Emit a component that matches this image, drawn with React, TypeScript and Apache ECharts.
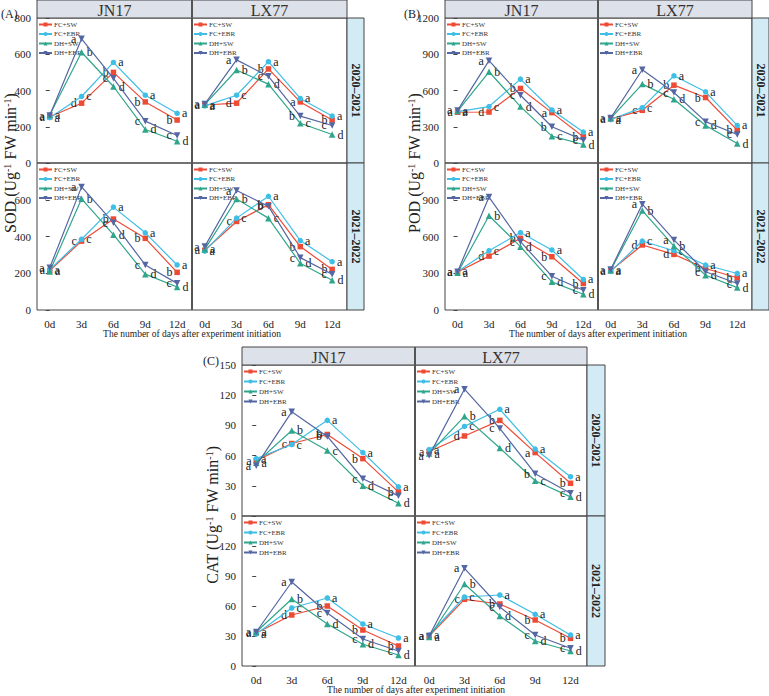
import React, { useEffect, useRef } from "react";
import * as echarts from "echarts";

const FONT = '"Liberation Serif","Times New Roman",serif';
const days = [0, 3, 6, 9, 12];
const dayLabels = ["0d", "3d", "6d", "9d", "12d"];
const treatments = ["FC+SW", "FC+EBR", "DH+SW", "DH+EBR"];
const cultivars = ["JN17", "LX77"];
const seasons = ["2020\u20132021", "2021\u20132022"];
const xTitle = "The number of days after experiment initiation";

// ---------- SOD (A) ----------
const sodJN17y1FCSW = [255, 330, 500, 337, 237];
const sodJN17y1FCEBR = [250, 367, 555, 374, 274];
const sodJN17y1DHSW = [265, 611, 422, 185, 120];
const sodJN17y1DHEBR = [262, 685, 467, 231, 152];
const sodJN17y1Letters = ["aaaa", "dcba", "badc", "badc", "badc"];

const sodLX77y1FCSW = [320, 330, 519, 337, 237];
const sodLX77y1FCEBR = [315, 374, 559, 356, 259];
const sodLX77y1DHSW = [322, 513, 435, 219, 157];
const sodLX77y1DHEBR = [325, 569, 478, 259, 207];
const sodLX77y1Letters = ["aaaa", "dcba", "badc", "aacb", "badc"];

const sodJN17y2FCSW = [215, 375, 495, 390, 205];
const sodJN17y2FCEBR = [220, 385, 560, 420, 245];
const sodJN17y2DHSW = [210, 605, 410, 195, 125];
const sodJN17y2DHEBR = [230, 670, 475, 245, 145];
const sodJN17y2Letters = ["aaaa", "ccba", "badc", "badc", "badc"];

const sodLX77y2FCSW = [325, 482, 573, 345, 221];
const sodLX77y2FCEBR = [320, 500, 619, 378, 263];
const sodLX77y2DHSW = [330, 604, 500, 254, 162];
const sodLX77y2DHEBR = [345, 650, 564, 285, 195];
const sodLX77y2Letters = ["aaaa", "ccba", "bacb", "badc", "badc"];

// ---------- POD (B) ----------
const podJN17y1FCSW = [420, 422, 617, 417, 217];
const podJN17y1FCEBR = [425, 467, 694, 439, 256];
const podJN17y1DHSW = [430, 755, 467, 222, 153];
const podJN17y1DHEBR = [435, 847, 561, 300, 189];
const podJN17y1Letters = ["aaaa", "dcba", "badc", "aacb", "badc"];

const podLX77y1FCSW = [365, 436, 644, 542, 272];
const podLX77y1FCEBR = [360, 458, 722, 589, 311];
const podLX77y1DHSW = [370, 653, 528, 311, 161];
const podLX77y1DHEBR = [372, 772, 583, 342, 236];
const podLX77y1Letters = ["aaaa", "ccba", "badc", "badc", "badc"];

const podJN17y2FCSW = [310, 440, 585, 435, 216];
const podJN17y2FCEBR = [315, 484, 632, 490, 249];
const podJN17y2DHSW = [305, 769, 517, 230, 129];
const podJN17y2DHEBR = [312, 922, 558, 276, 161];
const podJN17y2Letters = ["aaaa", "dcba", "badc", "badc", "badc"];

const podLX77y2FCSW = [320, 531, 454, 339, 263];
const podLX77y2FCEBR = [315, 563, 484, 367, 298];
const podLX77y2DHSW = [325, 812, 522, 284, 183];
const podLX77y2DHEBR = [330, 864, 572, 312, 216];
const podLX77y2Letters = ["aaaa", "dcba", "dcba", "badc", "badc"];

// ---------- CAT (C) ----------
const catJN17y1FCSW = [55, 72, 81, 57, 24];
const catJN17y1FCEBR = [57, 71, 95, 63, 29];
const catJN17y1DHSW = [53, 85, 65, 30, 12.6];
const catJN17y1DHEBR = [50, 103.5, 79, 37, 20];
const catJN17y1Letters = ["aaaa", "ccba", "bacb", "badc", "badc"];

const catLX77y1FCSW = [64, 79.5, 95, 63, 32.5];
const catLX77y1FCEBR = [66, 89, 106, 66.5, 39];
const catLX77y1DHSW = [62, 99, 67.5, 35, 19];
const catLX77y1DHEBR = [60, 126, 87, 42, 22.5];
const catLX77y1Letters = ["aaaa", "dcba", "badc", "aacb", "badc"];

const catJN17y2FCSW = [33, 51, 60, 36, 20];
const catJN17y2FCEBR = [32, 58, 68, 42, 28];
const catJN17y2DHSW = [34, 67, 42, 21.7, 11];
const catJN17y2DHEBR = [34, 84, 53, 27, 15];
const catJN17y2Letters = ["aaaa", "dcba", "badc", "badc", "badc"];

const catLX77y2FCSW = [30, 66.7, 62, 46, 27.7];
const catLX77y2FCEBR = [31, 69, 71, 51.7, 31];
const catLX77y2DHSW = [29, 82, 50, 25, 15];
const catLX77y2DHEBR = [30, 97.7, 59, 31, 17.7];
const catLX77y2Letters = ["aaaa", "ccba", "badc", "badc", "badc"];

// ---------- styling ----------
const COLORS = ["#ee4b37", "#3fbee6", "#2fa68c", "#5567a2"];
const SYMBOLS = ["rect", "circle", "triangle", "triangle"];
const SYMBOL_SIZE = [5.5, 5.5, 6.5, 6.5];
const SYMBOL_ROT = [0, 0, 0, 180];
const LABEL_POS = ["left", "right", "right", "left"];
const LABEL_OFF = [[0, 3], [0, 0], [0, 3], [0, -2]];

type Cell = { s: number[][]; l: string[] };

const panels = [
  {
    tag: "(A)", tagX: 1, tagY: 14,
    name: "SOD", titleX: 10, titleY: 163,
    left: 37, widths: [155, 155], top: 18, heights: [145, 147], strip: 17,
    max: 800, step: 200, xTitleX: 192, xTitleY: 334, legendGap: 2.5,
    cells: [
      [
        { s: [sodJN17y1FCSW, sodJN17y1FCEBR, sodJN17y1DHSW, sodJN17y1DHEBR], l: sodJN17y1Letters },
        { s: [sodLX77y1FCSW, sodLX77y1FCEBR, sodLX77y1DHSW, sodLX77y1DHEBR], l: sodLX77y1Letters },
      ],
      [
        { s: [sodJN17y2FCSW, sodJN17y2FCEBR, sodJN17y2DHSW, sodJN17y2DHEBR], l: sodJN17y2Letters },
        { s: [sodLX77y2FCSW, sodLX77y2FCEBR, sodLX77y2DHSW, sodLX77y2DHEBR], l: sodLX77y2Letters },
      ],
    ] as Cell[][],
  },
  {
    tag: "(B)", tagX: 404, tagY: 14,
    name: "POD", titleX: 414, titleY: 163,
    left: 445, widths: [153, 154], top: 18, heights: [145, 147], strip: 17,
    max: 1200, step: 300, xTitleX: 598, xTitleY: 334, legendGap: 2.5,
    cells: [
      [
        { s: [podJN17y1FCSW, podJN17y1FCEBR, podJN17y1DHSW, podJN17y1DHEBR], l: podJN17y1Letters },
        { s: [podLX77y1FCSW, podLX77y1FCEBR, podLX77y1DHSW, podLX77y1DHEBR], l: podLX77y1Letters },
      ],
      [
        { s: [podJN17y2FCSW, podJN17y2FCEBR, podJN17y2DHSW, podJN17y2DHEBR], l: podJN17y2Letters },
        { s: [podLX77y2FCSW, podLX77y2FCEBR, podLX77y2DHSW, podLX77y2DHEBR], l: podLX77y2Letters },
      ],
    ] as Cell[][],
  },
  {
    tag: "(C)", tagX: 203, tagY: 361,
    name: "CAT", titleX: 212, titleY: 515,
    left: 242, widths: [173, 172], top: 365, heights: [151, 150], strip: 18,
    max: 150, step: 30, xTitleX: 416, xTitleY: 690, legendGap: 3,
    cells: [
      [
        { s: [catJN17y1FCSW, catJN17y1FCEBR, catJN17y1DHSW, catJN17y1DHEBR], l: catJN17y1Letters },
        { s: [catLX77y1FCSW, catLX77y1FCEBR, catLX77y1DHSW, catLX77y1DHEBR], l: catLX77y1Letters },
      ],
      [
        { s: [catJN17y2FCSW, catJN17y2FCEBR, catJN17y2DHSW, catJN17y2DHEBR], l: catJN17y2Letters },
        { s: [catLX77y2FCSW, catLX77y2FCEBR, catLX77y2DHSW, catLX77y2DHEBR], l: catLX77y2Letters },
      ],
    ] as Cell[][],
  },
];

function tickValues(max: number, step: number, row: number) {
  const out: number[] = [];
  for (let v = 0; v <= max + 1e-9; v += step) {
    if (row === 0 || v < max) out.push(v);
  }
  return out;
}

function buildOption() {
  const grid: any[] = [];
  const xAxis: any[] = [];
  const yAxis: any[] = [];
  const series: any[] = [];
  const legend: any[] = [];
  const graphic: any[] = [];

  panels.forEach((p) => {
    const colX = [p.left, p.left + p.widths[0]];
    const rowY = [p.top, p.top + p.heights[0]];
    const totalW = p.widths[0] + p.widths[1];
    const totalH = p.heights[0] + p.heights[1];
    const hdrH = 18;

    for (let r = 0; r < 2; r++) {
      for (let c = 0; c < 2; c++) {
        const gi = grid.length;
        const cell = p.cells[r][c];
        grid.push({
          left: colX[c], top: rowY[r], width: p.widths[c], height: p.heights[r],
          show: true, borderColor: "#444", borderWidth: 1, backgroundColor: "transparent",
        });
        xAxis.push({
          gridIndex: gi, type: "value", min: -1.2, max: 13.4,
          axisLine: { show: false }, axisTick: { show: false }, splitLine: { show: false },
          axisLabel: {
            show: r === 1, customValues: days,
            formatter: (v: number) => dayLabels[days.indexOf(v)] ?? "",
            fontSize: 11, fontFamily: FONT, color: "#222", margin: 8,
          },
        });
        yAxis.push({
          gridIndex: gi, type: "value", min: 0, max: p.max, interval: p.step,
          axisLine: { show: false }, splitLine: { show: false },
          axisTick: {
            show: c === 0, inside: false, length: 4, lineStyle: { color: "#444" },
            customValues: tickValues(p.max, p.step, r),
          },
          axisLabel: { show: false },
        });
        treatments.forEach((t, k) => {
          series.push({
            type: "line", name: t, xAxisIndex: gi, yAxisIndex: gi,
            data: days.map((d, j) => [d, cell.s[k][j]]),
            symbol: SYMBOLS[k], symbolSize: SYMBOL_SIZE[k], symbolRotate: SYMBOL_ROT[k],
            lineStyle: { color: COLORS[k], width: 1.2 },
            itemStyle: { color: COLORS[k] },
            label: {
              show: true, position: LABEL_POS[k], distance: 2, offset: LABEL_OFF[k],
              fontSize: 12, fontFamily: FONT, color: "#222",
              formatter: (pp: any) => cell.l[pp.dataIndex][k],
            },
            labelLayout: { hideOverlap: false },
            z: 2 + k,
          });
        });
        legend.push({
          left: colX[c] + 1, top: rowY[r] + 3, orient: "vertical",
          itemWidth: 13, itemHeight: 5, itemGap: p.legendGap, padding: 0,
          selectedMode: false, data: treatments,
          textStyle: { fontSize: 7, fontFamily: FONT, color: "#333", padding: [0, 0, 0, -3] },
        });
      }
      // strip
      graphic.push({
        type: "rect",
        shape: { x: p.left + totalW, y: rowY[r], width: p.strip, height: p.heights[r] },
        style: { fill: "#d3ebf4", stroke: "#444", lineWidth: 1 },
      });
      graphic.push({
        type: "text", x: p.left + totalW + p.strip / 2, y: rowY[r] + p.heights[r] / 2,
        rotation: -Math.PI / 2,
        style: {
          text: seasons[r], fontSize: 12, fontWeight: "bold", fontFamily: FONT, fill: "#222",
          textAlign: "center", textVerticalAlign: "middle",
        },
      });
    }
    // headers
    for (let c = 0; c < 2; c++) {
      graphic.push({
        type: "rect",
        shape: { x: colX[c], y: p.top - hdrH, width: p.widths[c], height: hdrH },
        style: { fill: "#dde1ea", stroke: "#444", lineWidth: 1 },
      });
      graphic.push({
        type: "text", x: colX[c] + p.widths[c] / 2, y: p.top - hdrH / 2 + 1,
        style: {
          text: cultivars[c], fontSize: 16, fontFamily: FONT, fill: "#333",
          textAlign: "center", textVerticalAlign: "middle",
        },
      });
    }
    // separator between cultivars
    graphic.push({
      type: "line",
      shape: { x1: colX[1], y1: p.top - hdrH, x2: colX[1], y2: p.top + totalH },
      style: { stroke: "#555", lineWidth: 2 },
      z: 10,
    });
    // panel tag
    graphic.push({
      type: "text", x: p.tagX, y: p.tagY,
      style: { text: p.tag, fontSize: 12, fontFamily: FONT, fill: "#222", textVerticalAlign: "middle" },
    });
    // y title
    graphic.push({
      type: "text", x: p.titleX, y: p.titleY, rotation: Math.PI / 2,
      style: {
        text: `{m|${p.name} (Ug}{s|-1}{m| FW min}{s|-1}{m|)}`,
        rich: {
          m: { fontSize: 16, fontFamily: FONT, fill: "#222" },
          s: { fontSize: 10, fontFamily: FONT, fill: "#222", verticalAlign: "top" },
        },
        textAlign: "center", textVerticalAlign: "middle",
      },
    });
    // x title
    graphic.push({
      type: "text", x: p.xTitleX, y: p.xTitleY,
      style: {
        text: xTitle, fontSize: 9.5, fontFamily: FONT, fill: "#222",
        textAlign: "center", textVerticalAlign: "middle",
      },
    });
  });

  return {
    animation: false,
    backgroundColor: "#ffffff",
    textStyle: { fontFamily: FONT },
    grid, xAxis, yAxis, series, legend, graphic,
  };
}

export default function App() {
  const ref = useRef<HTMLDivElement>(null);
  useEffect(() => {
    if (!ref.current) return;
    const chart = echarts.init(ref.current, undefined, { renderer: "svg" });
    const option: any = buildOption();
    chart.setOption(option);
    // y tick labels placed through the axes' own scales
    const extra: any[] = [];
    panels.forEach((p, pi) => {
      for (let r = 0; r < 2; r++) {
        const gi = pi * 4 + r * 2;
        tickValues(p.max, p.step, r).forEach((v) => {
          const px: any = chart.convertToPixel({ yAxisIndex: gi } as any, v);
          const y = Array.isArray(px) ? px[1] : px;
          extra.push({
            type: "text", x: p.left - 6, y: y + 0.01,
            style: {
              text: `${v}`, fontSize: 11, fontFamily: FONT, fill: "#222",
              textAlign: "right", textVerticalAlign: "middle",
            },
            z: 100, zlevel: 1,
          });
        });
      }
    });
    chart.setOption({ graphic: [...option.graphic, ...extra] });
    return () => chart.dispose();
  }, []);
  return (
    <div
      ref={ref}
      style={{ position: "absolute", left: 0, top: 0, width: 769, height: 696 }}
    />
  );
}
